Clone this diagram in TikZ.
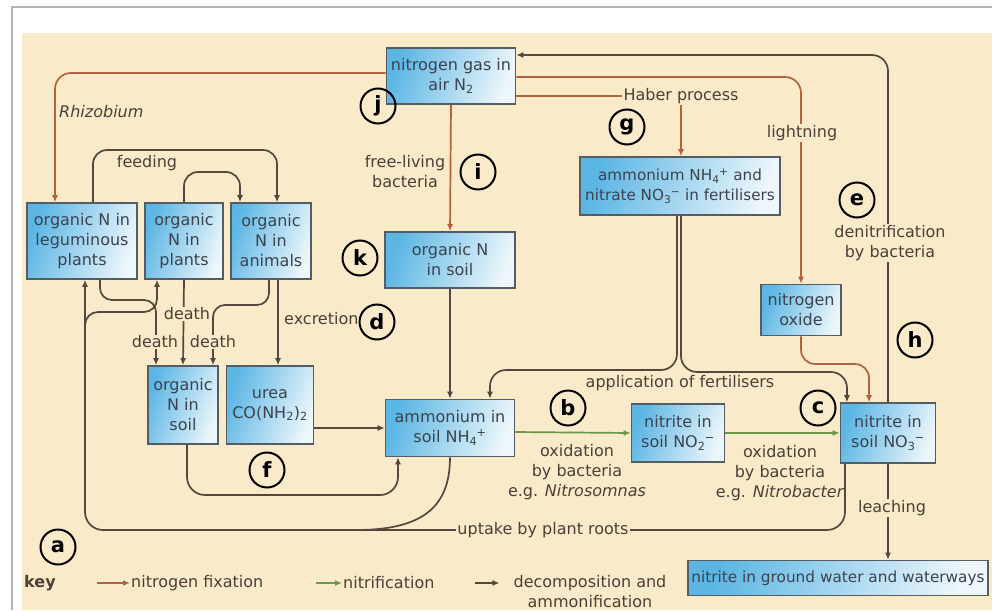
\documentclass[tikz,border=0pt]{standalone}
\usepackage{fontspec}
\setmainfont{DejaVu Sans}
\usetikzlibrary{arrows.meta, shapes.geometric}

\definecolor{bgbeige}{RGB}{249,234,202}
\definecolor{boxblue}{RGB}{92,182,228}
\definecolor{boxpale}{RGB}{236,246,251}
\definecolor{boxedge}{RGB}{84,92,102}
\definecolor{boxtext}{RGB}{60,66,78}
\definecolor{inktext}{RGB}{74,64,56}
\definecolor{fixred}{RGB}{178,98,62}
\definecolor{nitgreen}{RGB}{104,152,72}
\definecolor{decgrey}{RGB}{84,72,62}

\newcommand{\subsup}[2]{\textsubscript{#1}\kern-0.5pt\textsuperscript{#2}}

\tikzset{
  box/.style={draw=boxedge, line width=1.6pt, left color=boxblue, right color=boxpale,
    shading angle=70, align=center, inner sep=1pt, text=boxtext,
    font=\fontsize{16}{20}\selectfont},
  wh/.style 2 args={minimum width=#1, minimum height=#2},
  lbl/.style={text=inktext, align=center, inner sep=1pt, font=\fontsize{16}{20}\selectfont},
  onln/.style={lbl, fill=bgbeige},
  circ/.style={circle, draw, line width=2pt, minimum size=35pt, inner sep=0pt,
    font=\fontsize{21}{21}\selectfont\bfseries},
  link/.style={line width=1.7pt, -{Latex[length=7pt,width=6pt]}},
  fixline/.style={link, draw=fixred},
  nitline/.style={link, draw=nitgreen},
  decline/.style={link, draw=decgrey}
}

\begin{document}
\begin{tikzpicture}[x=1pt, y=-1pt]
    \useasboundingbox (0,0) rectangle (992,610);
    %%% Page and background
    \draw[gray!60, line width=1.2pt] (12,610) -- (12,7) -- (992,7);
    \fill[bgbeige] (22,33) rectangle (992,610);
    %
    %%% Boxes
    \node[box, wh={129pt}{56pt}] (gas) at (451,76) {nitrogen gas in\\air N\textsubscript{2}};
    \node[box, wh={200pt}{58pt}, font=\fontsize{15.2}{20}\selectfont] (fert) at (680,186) {ammonium NH\subsup{4}{+} and\\nitrate NO\subsup{3}{−} in fertilisers};
    \node[box, wh={110pt}{76pt}] (legume) at (82,241) {organic N in\\leguminous\\plants};
    \node[box, wh={78pt}{76pt}] (plants) at (184,241) {organic\\N in\\plants};
    \node[box, wh={80pt}{76pt}] (animals) at (271,241) {organic\\N in\\animals};
    \node[box, wh={130pt}{56pt}] (orgsoil) at (450,260) {organic N\\in soil};
    \node[box, wh={80pt}{51pt}] (oxide) at (801,310) {nitrogen\\oxide};
    \node[box, wh={70pt}{78pt}] (soil) at (183,405) {organic\\N in\\soil};
    \node[box, wh={87pt}{78pt}] (urea) at (270,405) {urea\\CO(NH\textsubscript{2})\textsubscript{2}};
    \node[box, wh={129pt}{57pt}] (ammon) at (450,428) {ammonium in\\soil NH\subsup{4}{+}};
    \node[box, wh={93pt}{58pt}] (nitrite) at (678,433) {nitrite in\\soil NO\subsup{2}{−}};
    \node[box, wh={95pt}{60pt}] (nitrate) at (888,433) {nitrite in\\soil NO\subsup{3}{−}};
    \node[box, wh={300pt}{35pt}, font=\fontsize{15.3}{20}\selectfont] (ground) at (838,578) {nitrite in ground water and waterways};
    %
    %%% Nitrogen fixation
    \node[onln] (haber) at (681,96) {Haber process};
    \draw[fixline, rounded corners=16pt] ([yshift=3pt]gas.west) -| ([xshift=-27pt]legume.north);
    \draw[fixline] (gas.south) -- (orgsoil.north);
    \draw[fixline, -] ([yshift=-20pt]gas.east) -- (haber.west);
    \draw[fixline] (haber.south) -- (haber.south |- fert.north);
    \draw[fixline, rounded corners=16pt] ([yshift=-1pt]gas.east) -| (oxide.north);
    \draw[fixline, rounded corners=14pt] (oxide.south) |- (869,364) -- ([xshift=-19pt]nitrate.north);
    %
    %%% Fertilisers, denitrification, leaching
    \draw[decline, rounded corners=16pt] (nitrate.north) |- ([yshift=21pt]gas.east);
    \draw[decline, rounded corners=16pt] ([xshift=-3pt]fert.south) |- (490,370) -- ([xshift=40pt]ammon.north);
    \draw[decline, rounded corners=16pt] ([xshift=1pt]fert.south) |- (847,372) -- ([xshift=-41pt]nitrate.north);
    \draw[decline] (nitrate.south) -- (nitrate.south |- ground.north);
    %
    %%% Nitrification
    \draw[nitline] ([yshift=-4pt]ammon.east) -- (nitrite.west);
    \draw[nitline] (nitrite.east) -- (nitrate.west);
    %
    %%% Feeding, death, excretion
    \draw[decline, rounded corners=14pt] ([xshift=11pt]legume.north) |- (277,150) -- ([xshift=6pt]animals.north);
    \draw[decline, rounded corners=14pt] (plants.north) |- (240,172) -- ([xshift=-31pt]animals.north);
    \draw[decline, rounded corners=12pt] ([xshift=18pt]legume.south) |- (156,300) -- ([xshift=-27pt]soil.north);
    \draw[decline] (plants.south) -- (soil.north);
    \draw[decline, rounded corners=12pt] ([xshift=-2pt]animals.south) |- (213,305) -- ([xshift=30pt]soil.north);
    \draw[decline] ([xshift=7pt]animals.south) -- ([xshift=7pt]animals.south |- urea.north);
    %
    %%% Ammonification
    \draw[decline] (orgsoil.south) -- (ammon.north);
    \draw[decline] (ammon.west -| urea.east) -- (ammon.west);
    \draw[decline, rounded corners=18pt] ([xshift=4pt]soil.south) |- (398,495) -- ([xshift=-52pt]ammon.south);
    %
    %%% Uptake by plant roots
    \coordinate (rootfork) at (85,340);
    \draw[decline, rounded corners=18pt] ([xshift=-43pt]nitrate.south) |- (rootfork |- 0,530) -- ([xshift=3pt]legume.south);
    \draw[decline, -] (ammon.south) .. controls (450,505) and (425,529) .. (360,530);
    \draw[decline, rounded corners=13pt] (rootfork) |- (157,312) -- ([xshift=-27pt]plants.south);
    %
    %%% Labels
    \node[lbl, anchor=west] (rhizo) at (58,112) {\itshape Rhizobium};
    \node[lbl] (feedlbl) at (147,163) {feeding};
    \node[lbl] (freelbl) at (405,172) {free-living\\bacteria};
    \node[onln] (lightlbl) at (802,133) {lightning};
    \node[onln] (denitlbl) at (890,243) {denitrification\\by bacteria};
    \node[lbl, anchor=west] (excrlbl) at (283,319) {excretion};
    \node[onln] (death1) at (187,314) {death};
    \node[onln] (death2) at (155,342) {death};
    \node[onln] (death3) at (213,342) {death};
    \node[lbl] (applbl) at (680,383) {application of fertilisers};
    \node[lbl] (ox1) at (577,472) {oxidation\\by bacteria\\e.g. \textit{Nitrosomnas}};
    \node[lbl] (ox2) at (780,473) {oxidation\\by bacteria\\e.g. \textit{Nitrobacter}};
    \node[onln] (leachlbl) at (892,508) {leaching};
    \node[onln] (uptakelbl) at (543,530) {uptake by plant roots};
    %
    %%% Circled letters
    \node[circ] (la) at (58,547) {a};
    \node[circ] (lb) at (568,408) {b};
    \node[circ] (lc) at (818,408) {c};
    \node[circ] (ld) at (377,322) {d};
    \node[circ] (le) at (857,200) {e};
    \node[circ] (lf) at (267,470) {f};
    \node[circ] (lg) at (627,127) {g};
    \node[circ] (lh) at (915,340) {h};
    \node[circ] (li) at (478,172) {i};
    \node[circ] (lj) at (378,106) {j};
    \node[circ] (lk) at (360,258) {k};
    %
    %%% Key
    \node[lbl, anchor=west] (keylbl) at (23,583) {\bfseries key};
    \node[lbl, anchor=west] (kfix) at (130,583) {nitrogen fixation};
    \draw[fixline] ([xshift=-33pt]kfix.west) -- (kfix.west);
    \node[lbl, anchor=west] (knit) at (342,583) {nitrification};
    \draw[nitline] ([xshift=-26pt]knit.west) -- (knit.west);
    \node[lbl] (kdec) at (590,592) {decomposition and\\ammonification};
    \draw[decline] ([xshift=-37pt,yshift=9pt]kdec.west) -- ([xshift=-13pt,yshift=9pt]kdec.west);
\end{tikzpicture}
\end{document}
